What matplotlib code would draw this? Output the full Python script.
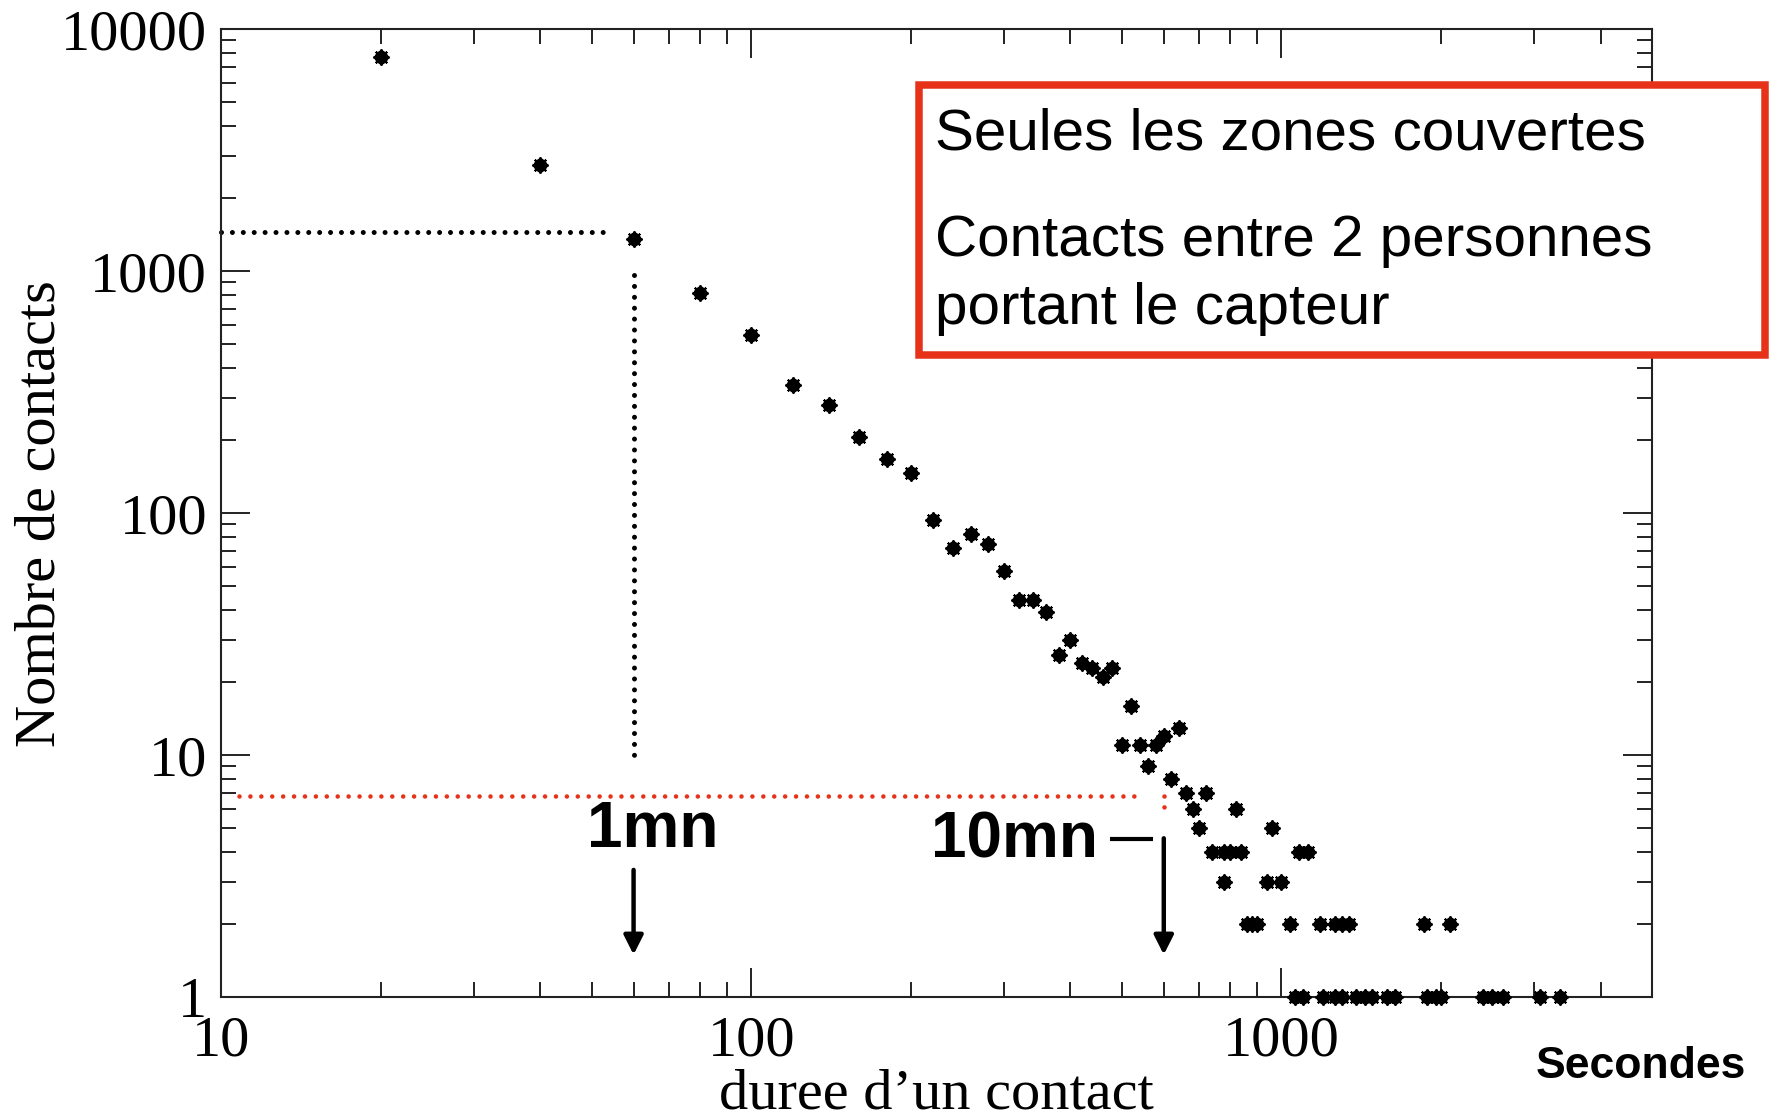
import numpy as np
import matplotlib.pyplot as plt
import matplotlib.ticker as ticker
from matplotlib.patches import Rectangle

# duree d'un contact (s) et nombre de contacts
duree = [20, 40, 60, 80, 100, 120, 140, 160, 180, 200,
         220, 240, 260, 280, 300, 320, 340, 360, 380, 400,
         420, 440, 460, 480, 500, 520, 540, 560, 580, 600,
         620, 640, 660, 680, 700, 720, 740, 780, 800, 840,
         780, 820, 860, 880, 900, 940, 960, 1000, 1040, 1080,
         1120, 1180, 1260, 1300, 1340, 1860, 2080]
nombre = [7700, 2750, 1360, 810, 547, 340, 280, 207, 167, 147,
          94, 72, 82, 75, 58, 44, 44, 39, 26, 30,
          24, 23, 21, 23, 11, 16, 11, 9, 11, 12,
          8, 13, 7, 6, 5, 7, 4, 4, 4, 4,
          3, 6, 2, 2, 2, 3, 5, 3, 2, 4,
          4, 2, 2, 2, 2, 2, 2]
# contacts vus une seule fois
duree_un = [1060, 1100, 1200, 1260, 1300, 1380, 1440, 1480, 1580, 1640,
            1880, 1960, 2000, 2400, 2500, 2620, 3080, 3360]
nombre_un = [1] * len(duree_un)

x_ticks = [10, 100, 1000]
y_ticks = [1, 10, 100, 1000, 10000]

serif = 'Liberation Serif'
sans = 'Liberation Sans'
red = '#e63219'

W, H = 1770, 1117
fig = plt.figure(figsize=(W / 100, H / 100), dpi=100)
ax = fig.add_axes([221 / W, 1 - 997.3 / H, (1652 - 221) / W, (997.3 - 29.3) / H])

x_all = duree + duree_un
y_all = nombre + nombre_un
# marqueur : octogone plein avec petites pointes
ax.plot(x_all, y_all, ls='none', marker='8', ms=8.6, color='k', clip_on=False, zorder=5)
ax.plot(x_all, y_all, ls='none', marker=(8, 2, 0), ms=11.5, mew=1.5, color='k', clip_on=False, zorder=5)

ax.set_xscale('log')
ax.set_yscale('log')
ax.set_xlim(10, 5000)
ax.set_ylim(1, 10000)
ax.set_xticks(x_ticks)
ax.set_yticks(y_ticks)
ax.xaxis.set_major_formatter(ticker.FuncFormatter(lambda v, p: f'{v:g}'))
ax.yaxis.set_major_formatter(ticker.FuncFormatter(lambda v, p: f'{v:g}'))
ax.xaxis.set_minor_locator(ticker.LogLocator(base=10, subs=np.arange(2, 10)))
ax.yaxis.set_minor_locator(ticker.LogLocator(base=10, subs=np.arange(2, 10)))
ax.xaxis.set_minor_formatter(ticker.NullFormatter())
ax.yaxis.set_minor_formatter(ticker.NullFormatter())

ax.tick_params(which='major', direction='in', length=21, width=1.4, top=True, right=True,
               labelsize=42, color='#222222')
ax.tick_params(which='minor', direction='in', length=10.5, width=1.4, top=True, right=True,
               color='#222222')
ax.tick_params(axis='x', pad=13)
ax.tick_params(axis='y', pad=10)
for lab in ax.get_xticklabels() + ax.get_yticklabels():
    lab.set_fontfamily(serif)
for sp in ax.spines.values():
    sp.set_linewidth(1.5)
    sp.set_color('#222222')

ax.set_xlabel('duree d\u2019un contact', fontsize=42, family=serif, labelpad=1)
ax.set_ylabel('Nombre de contacts', fontsize=42, family=serif, labelpad=-4)

# lignes pointillees
dots = (0, (0.001, 2.18))
ax.plot([10, 54], [1450, 1450], color='k', lw=3.6, ls=dots, dash_capstyle='round', clip_on=False)
ax.plot([60, 60], [966, 9.9], color='k', lw=3.6, ls=dots, dash_capstyle='round')
ax.plot([10.8, 534], [6.8, 6.8], color=red, lw=3.3, ls=(0, (0.001, 2.38)), dash_capstyle='round')
ax.plot([600, 600], [6.8, 5.6], color=red, lw=3.3, ls=(0, (0.001, 2.38)), dash_capstyle='round')

# fleches 1mn et 10mn
arrow = dict(arrowstyle='-|>,head_length=11.5,head_width=5.8', mutation_scale=1,
             lw=3.2, color='k', shrinkA=0, shrinkB=0)
ax.annotate('', xy=(60, 1.5), xytext=(60, 3.36), arrowprops=arrow)
ax.annotate('', xy=(600, 1.5), xytext=(600, 4.54), arrowprops=arrow)
ax.plot([475, 572], [4.5, 4.5], color='k', lw=3, solid_capstyle='butt')

fig.text(587 / W, 1 - 847 / H, '1mn', fontsize=46, fontweight='bold', family=sans, va='baseline')
fig.text(931 / W, 1 - 857 / H, '10mn', fontsize=46, fontweight='bold', family=sans, va='baseline')
fig.text(1536 / W, 1 - 1078 / H, 'Secondes', fontsize=32, fontweight='bold', family=sans, va='baseline')

# cadre rouge
box = Rectangle((919 / W, 1 - 354.5 / H), (1765.5 - 919) / W, (354.5 - 85) / H,
                transform=fig.transFigure, fc='white', ec=red, lw=5.4, zorder=10)
fig.add_artist(box)
fig.text(935 / W, 1 - 150 / H, 'Seules les zones couvertes', fontsize=42, family=sans,
         va='baseline', zorder=11)
fig.text(935 / W, 1 - 256 / H, 'Contacts entre 2 personnes', fontsize=42, family=sans,
         va='baseline', zorder=11)
fig.text(935 / W, 1 - 324 / H, 'portant le capteur', fontsize=42, family=sans,
         va='baseline', zorder=11)

fig.savefig('out.png', dpi=100)
